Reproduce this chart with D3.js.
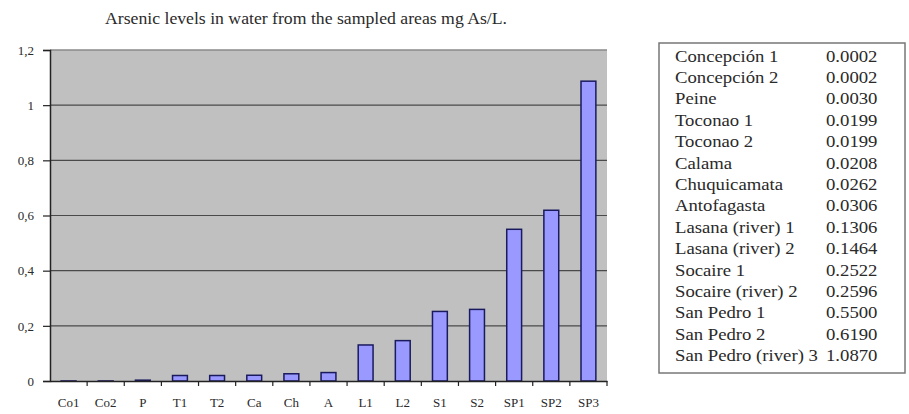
<!DOCTYPE html>
<html><head><meta charset="utf-8">
<script src="https://cdn.jsdelivr.net/npm/d3@7"></script>
<style>
body{margin:0;background:#fff;}
svg{display:block;}
text{font-family:"Liberation Serif","Times New Roman",serif;fill:#2a2a2a;}
</style></head>
<body><svg id="c" width="909" height="414"></svg>
<script>
const codes = ["Co1","Co2","P","T1","T2","Ca","Ch","A","L1","L2","S1","S2","SP1","SP2","SP3"];
const names = ["Concepción 1","Concepción 2","Peine","Toconao 1","Toconao 2","Calama","Chuquicamata","Antofagasta","Lasana (river) 1","Lasana (river) 2","Socaire 1","Socaire (river) 2","San Pedro 1","San Pedro  2","San Pedro (river) 3"];
const values = [0.0002,0.0002,0.0030,0.0199,0.0199,0.0208,0.0262,0.0306,0.1306,0.1464,0.2522,0.2596,0.5500,0.6190,1.0870];
const yTicks = [0,0.2,0.4,0.6,0.8,1,1.2];
const yTickLabels = ["0","0,2","0,4","0,6","0,8","1","1,2"];
const title = "Arsenic levels in water from the sampled areas mg As/L.";

const svg = d3.select("#c");
const L=50,R=607,T=50,B=381;
const x = d3.scaleBand().domain(codes).range([L,R]).paddingInner(0.6).paddingOuter(0.3);
const xStep = d3.scaleBand().domain(codes).range([L,R]);
const y = d3.scaleLinear().domain([0,1.2]).range([B,T]);

svg.append("rect").attr("x",L).attr("y",T).attr("width",R-L).attr("height",B-T).attr("fill","#c0c0c0");
svg.append("line").attr("x1",L).attr("x2",R).attr("y1",T).attr("y2",T).attr("stroke","#8a8a8a").attr("stroke-width",1.5);

svg.append("g").selectAll("line").data(yTicks.filter(d=>d>0&&d<1.2)).join("line")
  .attr("x1",L).attr("x2",R).attr("y1",d=>y(d)).attr("y2",d=>y(d))
  .attr("stroke","#4a4a4a").attr("stroke-width",1.2);

svg.append("g").selectAll("rect").data(values).join("rect")
  .attr("x",(d,i)=>x(codes[i])).attr("width",x.bandwidth())
  .attr("y",d=>y(d)).attr("height",d=>B-y(d))
  .attr("fill","#9999ff").attr("stroke","#1a1a5e").attr("stroke-width",1.5);

// y axis
const ya = svg.append("g").attr("transform",`translate(${L},0)`)
  .call(d3.axisLeft(y).tickValues(yTicks).tickFormat((d,i)=>yTickLabels[i]).tickSize(7).tickPadding(9));
ya.select(".domain").attr("stroke","#222").attr("stroke-width",1.5);
ya.selectAll(".tick line").attr("stroke","#222").attr("stroke-width",1.2);
ya.selectAll("text").attr("font-size",13).attr("fill","#333");

// x axis
const xa = svg.append("g").attr("transform",`translate(0,${B})`)
  .call(d3.axisBottom(x).tickSize(0).tickPadding(17));
xa.select(".domain").attr("stroke","#222").attr("stroke-width",1.5);
xa.selectAll("text").attr("font-size",13).attr("fill","#333");
svg.append("g").selectAll("line").data(codes).join("line")
  .attr("x1",(d,i)=>xStep(d)+xStep.step()).attr("x2",(d,i)=>xStep(d)+xStep.step())
  .attr("y1",B).attr("y2",B+5).attr("stroke","#222").attr("stroke-width",1.2);

// title
svg.append("text").attr("x",105).attr("y",24)
  .attr("font-size",16).attr("fill","#333")
  .attr("textLength",402).attr("lengthAdjust","spacingAndGlyphs").text(title);

// legend table
const rowY = d3.scaleBand().domain(names.map((d,i)=>i)).range([46,367]);
svg.append("rect").attr("x",659).attr("y",43).attr("width",246).attr("height",330)
  .attr("fill","#fff").attr("stroke","#777").attr("stroke-width",1.5);
const lg = svg.append("g").attr("transform","translate(675,0) scale(1.17,1)");
lg.selectAll("text.n").data(names).join("text").attr("class","n")
  .attr("x",0).attr("y",(d,i)=>rowY(i)+rowY.bandwidth()/2+5)
  .attr("font-size",16).attr("fill","#333").text(d=>d);
lg.selectAll("text.v").data(values).join("text").attr("class","v")
  .attr("x",(826-675)/1.17).attr("y",(d,i)=>rowY(i)+rowY.bandwidth()/2+5)
  .attr("font-size",16).attr("fill","#333").text(d=>d.toFixed(4));
</script></body></html>
